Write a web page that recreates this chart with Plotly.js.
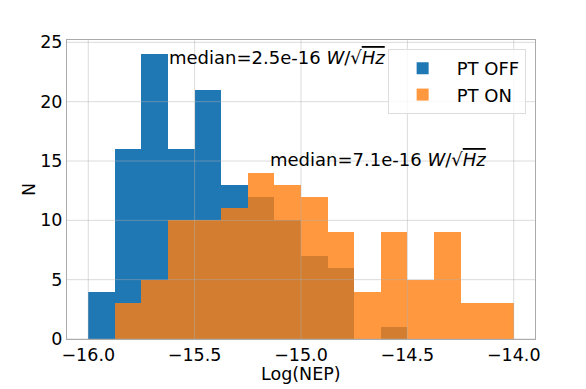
<!DOCTYPE html>
<html>
<head>
<meta charset="utf-8">
<script src="https://cdn.plot.ly/plotly-3.0.1.min.js"></script>
<style>
  html, body { margin: 0; padding: 0; background: white; }
  #chart { width: 586px; height: 389px; }
</style>
</head>
<body>
<div id="chart"></div>
<script>
// Histogram bins of Log(NEP), width 0.125
const binCenters = [-15.9375, -15.8125, -15.6875, -15.5625, -15.4375, -15.3125, -15.1875, -15.0625,
                    -14.9375, -14.8125, -14.6875, -14.5625, -14.4375, -14.3125, -14.1875, -14.0625];
const binWidth = 0.125;

const countsOff = [4, 16, 24, 16, 21, 13, 12, 10, 7, 6, 0, 1, 0, 0, 0, 0];
const countsOn  = [0, 3, 5, 10, 10, 11, 14, 13, 12, 9, 4, 9, 5, 9, 3, 3];

const labelOff = 'PT OFF';
const labelOn = 'PT ON';

const medianOffText = "median=2.5e-16 <i>W</i>/√<span style='text-decoration:overline'><i>Hz</i></span>";
const medianOnText  = "median=7.1e-16 <i>W</i>/√<span style='text-decoration:overline'><i>Hz</i></span>";

const xTicks = [-16.0, -15.5, -15.0, -14.5, -14.0];
const xTickText = ['\u221216.0', '\u221215.5', '\u221215.0', '\u221214.5', '\u221214.0'];
const yTicks = [0, 5, 10, 15, 20, 25];

const FONT = 'DejaVu Sans, sans-serif';
const gridColor = 'rgba(176,176,176,0.45)';

const traces = [
  {
    type: 'bar',
    x: binCenters,
    y: countsOff,
    width: binWidth,
    name: labelOff,
    marker: { color: '#1f77b4', line: { width: 0 } },
    hoverinfo: 'x+y'
  },
  {
    type: 'bar',
    x: binCenters,
    y: countsOn,
    width: binWidth,
    name: labelOn,
    opacity: 0.8,
    marker: { color: '#ff7f0e', line: { width: 0 } },
    hoverinfo: 'x+y'
  }
];

// matplotlib draws the grid on top of the bars, so use shapes for it
const gridShapes = [];
xTicks.forEach(v => {
  gridShapes.push({
    type: 'line', layer: 'above', xref: 'x', yref: 'paper',
    x0: v, x1: v, y0: 0, y1: 1,
    line: { color: gridColor, width: 1 }
  });
});
yTicks.forEach(v => {
  gridShapes.push({
    type: 'line', layer: 'above', xref: 'paper', yref: 'y',
    x0: 0, x1: 1, y0: v, y1: v,
    line: { color: gridColor, width: 1 }
  });
});

const layout = {
  width: 586,
  height: 389,
  barmode: 'overlay',
  bargap: 0,
  paper_bgcolor: 'white',
  plot_bgcolor: 'white',
  font: { family: FONT, size: 17.5, color: '#000' },
  margin: { l: 67, r: 51, t: 40, b: 50 },
  xaxis: {
    range: [-16.1, -13.9],
    tickvals: xTicks,
    ticktext: xTickText,
    showgrid: false,
    zeroline: false,
    showline: true,
    mirror: true,
    linecolor: '#aaaaaa',
    linewidth: 1,
    ticks: '',
    ticklen: 0,
    tickfont: { size: 17.5 }
  },
  yaxis: {
    range: [0, 25.2],
    tickvals: yTicks,
    showgrid: false,
    zeroline: false,
    showline: true,
    mirror: true,
    linecolor: '#aaaaaa',
    linewidth: 1,
    ticks: '',
    tickfont: { size: 17.5 },
    title: { text: 'N', font: { size: 17.5 }, standoff: 0 }
  },
  legend: {
    x: 0.98, xanchor: 'right',
    y: 0.97, yanchor: 'top',
    bgcolor: 'rgba(255,255,255,0.8)',
    bordercolor: '#dddddd',
    borderwidth: 1,
    font: { size: 18 },
    itemwidth: 58,
    tracegroupgap: 4
  },
  shapes: gridShapes,
  annotations: [
    {
      x: -15.63, y: 23.75, xref: 'x', yref: 'y',
      xanchor: 'left', yanchor: 'middle',
      text: medianOffText, showarrow: false,
      font: { size: 18 }
    },
    {
      x: -15.155, y: 15.1, xref: 'x', yref: 'y',
      xanchor: 'left', yanchor: 'middle',
      text: medianOnText, showarrow: false,
      font: { size: 18 }
    },
    // x axis title, placed by hand to sit close under the tick labels
    {
      x: 0.5, y: -0.118, xref: 'paper', yref: 'paper',
      xanchor: 'center', yanchor: 'middle',
      text: 'Log(NEP)', showarrow: false,
      font: { size: 17.5 }
    }
  ]
};

Plotly.newPlot('chart', traces, layout, { displayModeBar: false, staticPlot: true });
</script>
</body>
</html>
